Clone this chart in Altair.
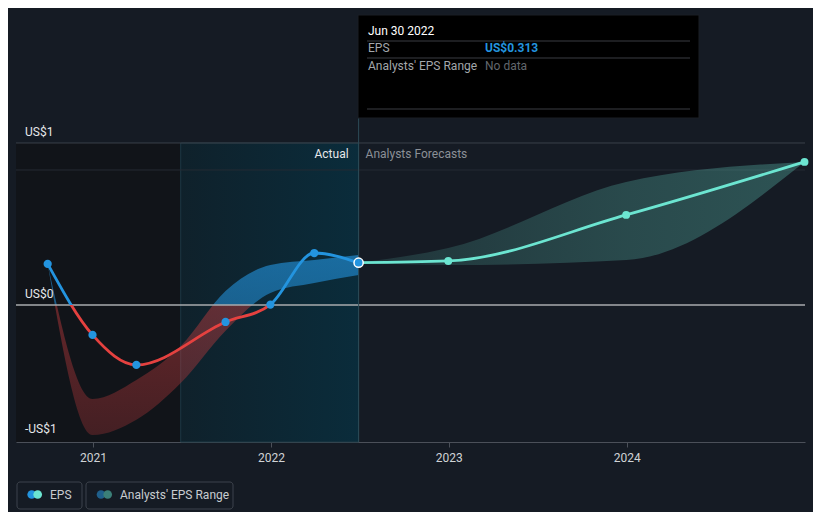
import altair as alt
import pandas as pd

# ---------------- data ----------------
eps_dates = ["2020-09-30", "2020-12-31", "2021-03-31", "2021-09-30",
             "2021-12-31", "2022-03-31", "2022-06-30"]
eps_values = [0.304, -0.222, -0.444, -0.126, 0.003, 0.385, 0.313]

past_range_dates = ["2020-09-30", "2020-12-31", "2021-03-31", "2021-06-30",
                    "2021-09-30", "2021-12-31", "2022-03-31", "2022-06-30"]
past_range_low = [0.304, -0.963, -0.85, -0.578, -0.19, 0.089, 0.163, 0.222]
past_range_high = [0.304, -0.696, -0.556, -0.304, 0.104, 0.296, 0.333, 0.37]

fc_dates = ["2022-06-30", "2022-12-31", "2023-12-31", "2024-12-31"]
fc_values = [0.313, 0.326, 0.667, 1.06]
fc_low = [0.313, 0.296, 0.333, 1.06]
fc_high = [0.313, 0.422, 0.911, 1.06]

year_ticks = [2021, 2022, 2023, 2024]
y_label_pos = [1.2, 0.0, -1.0]
y_label_text = ["US$1", "US$0", "-US$1"]

# ---------------- styling ----------------
BG = "#151b24"
BLUE = "#2394df"
RED = "#e5413f"
TEAL = "#6ce5d1"
FONT = "Roboto"


def ms(s):
    return int(pd.Timestamp(s).value // 10**6)


x_domain = [ms("2020-07-27"), ms("2025-01-01")]
y_domain = [-1.015, 2.148]

xscale = alt.Scale(type="utc", domain=x_domain, nice=False)
yscale = alt.Scale(domain=y_domain, nice=False, zero=False)
xaxis = alt.Axis(values=[ms(f"{y}-01-01") for y in year_ticks], format="%Y",
                 title=None, grid=False, domainColor="#4b5059", tickColor="#4b5059",
                 tickSize=5, labelColor="#d0d3d6", labelFontSize=12, labelFont=FONT,
                 labelPadding=5, domainWidth=1)

X = alt.X("date:T", scale=xscale, axis=xaxis)


def Y(field):
    return alt.Y(field, scale=yscale, axis=None)


eps_df = pd.DataFrame({"date": eps_dates, "eps": eps_values})
past_df = pd.DataFrame({"date": past_range_dates, "low": past_range_low, "high": past_range_high})
fc_df = pd.DataFrame({"date": fc_dates, "eps": fc_values, "low": fc_low, "high": fc_high})

# background regions
regions_df = pd.DataFrame({
    "date": ["2020-07-27", "2021-06-30"],
    "date2": ["2021-06-30", "2022-06-30"],
    "top": [1.2, 1.2],
    "bottom": [-1.015, -1.015],
    "kind": ["dark", "highlight"],
})

dark_region = alt.Chart(regions_df[regions_df.kind == "dark"]).mark_rect(
    fill="#111419"
).encode(x=X, x2="date2:T", y=Y("top:Q"), y2="bottom:Q")

hl_grad = alt.LinearGradient(
    gradient="linear", x1=0, x2=1, y1=0, y2=0,
    stops=[alt.GradientStop(offset=0, color="#0f212b"),
           alt.GradientStop(offset=1, color="#0a2c3b")])
hl_region = alt.Chart(regions_df[regions_df.kind == "highlight"]).mark_rect(
    fill=hl_grad, stroke="#1d3844", strokeWidth=1
).encode(x=X, x2="date2:T", y=Y("top:Q"), y2="bottom:Q")

# gridlines
grid_df = pd.DataFrame({"v": [1.2, 1.0], "c": ["#3a4049", "#252b34"]})
grid = alt.Chart(grid_df).mark_rule(strokeWidth=1).encode(
    y=Y("v:Q"), color=alt.Color("c:N", scale=None))

zero_df = pd.DataFrame({"v": [0.0]})
zero_line = alt.Chart(zero_df).mark_rule(color="#a9abae", strokeWidth=1.5).encode(y=Y("v:Q"))

# past analyst band (blue above zero, red below)
p_top = max(past_range_high)
p_bot = min(past_range_low)
p_frac = p_top / (p_top - p_bot)
past_grad = alt.LinearGradient(
    gradient="linear", x1=0, x2=0, y1=0, y2=1,
    stops=[alt.GradientStop(offset=0, color="rgba(35,148,223,0.62)"),
           alt.GradientStop(offset=p_frac, color="rgba(35,148,223,0.55)"),
           alt.GradientStop(offset=p_frac, color="rgba(200,60,62,0.45)"),
           alt.GradientStop(offset=1, color="rgba(200,60,62,0.28)")])
past_band = alt.Chart(past_df).mark_area(interpolate="monotone", fill=past_grad).encode(
    x=X, y=Y("high:Q"), y2="low:Q")

# forecast band
fc_grad = alt.LinearGradient(
    gradient="linear", x1=0, x2=1, y1=0, y2=0,
    stops=[alt.GradientStop(offset=0, color="rgba(108,229,209,0.12)"),
           alt.GradientStop(offset=0.6, color="rgba(108,229,209,0.23)"),
           alt.GradientStop(offset=1, color="rgba(108,229,209,0.28)")])
fc_band = alt.Chart(fc_df).mark_area(interpolate="monotone", fill=fc_grad).encode(
    x=X, y=Y("high:Q"), y2="low:Q")

# actual EPS line (blue above zero, red below)
e_top = max(eps_values)
e_bot = min(eps_values)
e_frac = e_top / (e_top - e_bot)
line_grad = alt.LinearGradient(
    gradient="linear", x1=0, x2=0, y1=0, y2=1,
    stops=[alt.GradientStop(offset=0, color=BLUE),
           alt.GradientStop(offset=e_frac, color=BLUE),
           alt.GradientStop(offset=e_frac, color=RED),
           alt.GradientStop(offset=1, color=RED)])
eps_line = alt.Chart(eps_df).mark_line(interpolate="monotone", stroke=line_grad,
                                       strokeWidth=2.8).encode(x=X, y=Y("eps:Q"))
eps_pts = alt.Chart(eps_df.iloc[:-1]).mark_circle(color=BLUE, size=68, opacity=1).encode(
    x=X, y=Y("eps:Q"))

fc_line = alt.Chart(fc_df).mark_line(interpolate="monotone", color=TEAL, strokeWidth=2.8).encode(
    x=X, y=Y("eps:Q"))
fc_pts = alt.Chart(fc_df.iloc[1:]).mark_circle(color=TEAL, size=62, opacity=1).encode(
    x=X, y=Y("eps:Q"))

last_pt = alt.Chart(eps_df.iloc[-1:]).mark_point(
    shape="circle", filled=True, fill=BLUE, stroke="white", strokeWidth=1.5, size=85, opacity=1
).encode(x=X, y=Y("eps:Q"))

# marker line at last actual
marker_df = pd.DataFrame({"date": ["2022-06-30"]})
marker = alt.Chart(marker_df).mark_rule(color="#2c4a57", strokeWidth=1).encode(
    x=X, y=alt.value(103), y2=alt.value(427))

actual_txt = alt.Chart(marker_df).mark_text(
    text="Actual", align="right", baseline="middle", dx=-10, font=FONT, fontSize=12,
    color="#e6e8ea").encode(x=X, y=alt.value(139))
fc_txt = alt.Chart(marker_df).mark_text(
    text="Analysts Forecasts", align="left", baseline="middle", dx=7, font=FONT, fontSize=12,
    color="#8b9097").encode(x=X, y=alt.value(139))

# y labels
ylab_df = pd.DataFrame({"v": y_label_pos, "label": y_label_text})
ylabels = alt.Chart(ylab_df).mark_text(
    align="left", baseline="alphabetic", dy=-7, font=FONT, fontSize=12, color="#e6e8ea"
).encode(x=alt.value(9), y=Y("v:Q"), text="label:N")

# ---------------- tooltip (annotation, pixel placed) ----------------
one = pd.DataFrame({"k": [0]})


def ann_text(t, px, py, color, weight="normal", size=12):
    return alt.Chart(one).mark_text(
        text=t, align="left", baseline="middle", font=FONT, fontSize=size,
        fontWeight=weight, color=color
    ).encode(x=alt.value(px), y=alt.value(py))


def ann_hline(px1, px2, py, color):
    return alt.Chart(one).mark_rule(color=color, strokeWidth=1).encode(
        x=alt.value(px1), x2=alt.value(px2), y=alt.value(py))


tip_box = alt.Chart(one).mark_rect(fill="#000000", stroke="#1a1e24", strokeWidth=1).encode(
    x=alt.value(342), x2=alt.value(683), y=alt.value(0), y2=alt.value(103))
tip_layers = [
    tip_box,
    ann_hline(351, 674, 26, "#3a3d42"),
    ann_hline(351, 674, 43, "#3a3d42"),
    ann_hline(351, 674, 94, "#3a3d42"),
    ann_text("Jun 30 2022", 352, 16, "#ffffff"),
    ann_text("EPS", 352, 33, "#a3a7ab"),
    ann_text("US$0.313", 469, 33, BLUE, weight="bold"),
    ann_text("Analysts' EPS Range", 352, 51, "#a3a7ab"),
    ann_text("No data", 469, 51, "#62676d"),
]

# ---------------- legend (annotation, pixel placed) ----------------


def leg_box(px1, px2):
    return alt.Chart(one).mark_rect(
        fill=BG, stroke="#3d434c", strokeWidth=1, cornerRadius=3
    ).encode(x=alt.value(px1), x2=alt.value(px2), y=alt.value(467), y2=alt.value(494))


def leg_dot(px, color):
    return alt.Chart(one).mark_circle(size=75, opacity=1, color=color).encode(
        x=alt.value(px), y=alt.value(479.5))


leg_layers = [
    leg_box(1, 66), leg_box(70, 217),
    leg_dot(15.7, BLUE), leg_dot(21.7, TEAL),
    leg_dot(85, "#1f5f8b"), leg_dot(91.7, "#3b7f78"),
    ann_text("EPS", 34, 479.5, "#c8ccd0"),
    ann_text("Analysts' EPS Range", 104, 479.5, "#c8ccd0"),
]

chart = alt.layer(
    dark_region, hl_region, grid, past_band, fc_band, zero_line, marker,
    eps_line, fc_line, eps_pts, fc_pts, last_pt, actual_txt, fc_txt, ylabels,
    *tip_layers, *leg_layers
).properties(
    width=789, height=427,
    autosize=alt.AutoSizeParams(type="none"),
    padding={"left": 8, "top": 7, "right": 8, "bottom": 70},
    background=BG,
).configure_view(stroke=None)

chart.save("out.html", embed_options={"renderer": "svg", "actions": False})
